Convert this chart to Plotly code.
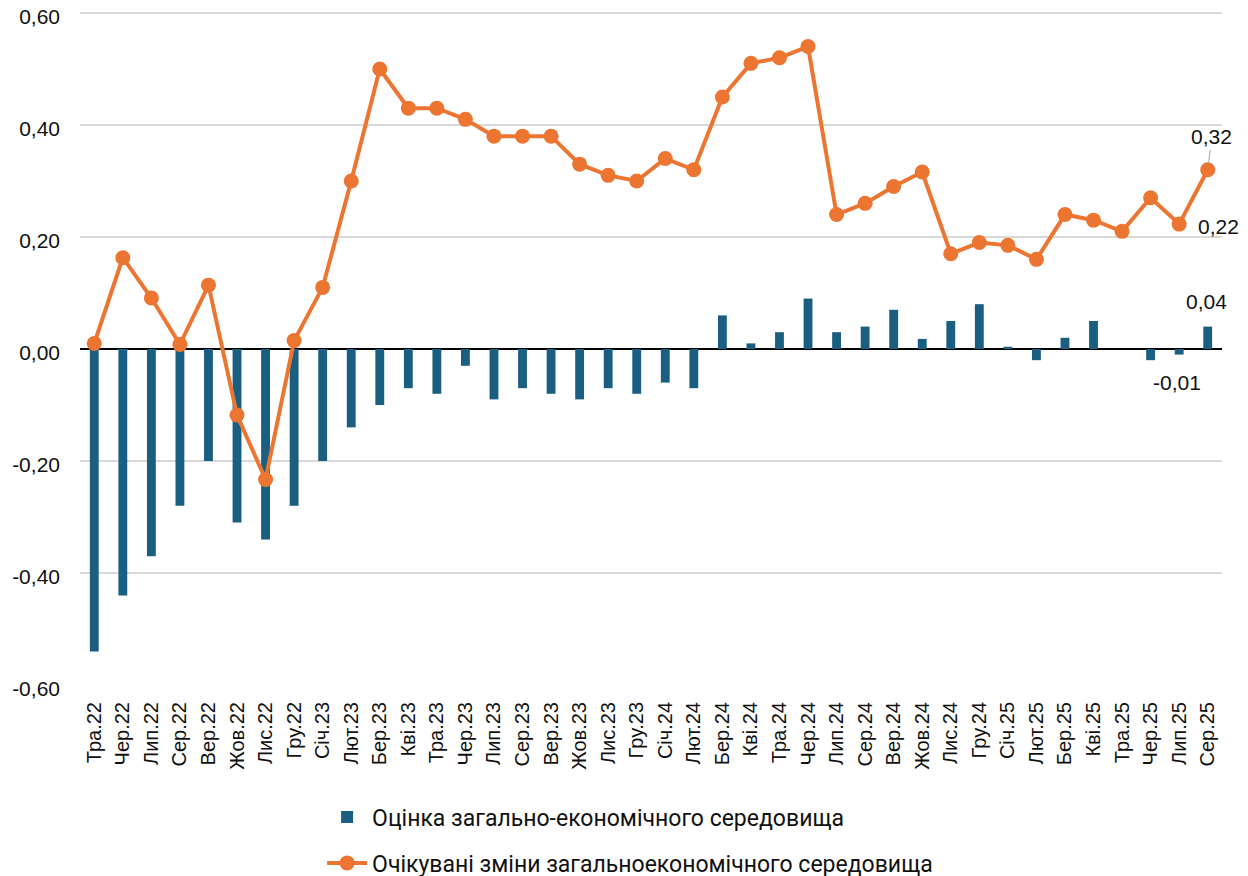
import plotly.graph_objects as go

# Дані
months = [
    "Тра.22", "Чер.22", "Лип.22", "Сер.22", "Вер.22", "Жов.22", "Лис.22", "Гру.22",
    "Січ.23", "Лют.23", "Бер.23", "Кві.23", "Тра.23", "Чер.23", "Лип.23", "Сер.23",
    "Вер.23", "Жов.23", "Лис.23", "Гру.23", "Січ.24", "Лют.24", "Бер.24", "Кві.24",
    "Тра.24", "Чер.24", "Лип.24", "Сер.24", "Вер.24", "Жов.24", "Лис.24", "Гру.24",
    "Січ.25", "Лют.25", "Бер.25", "Кві.25", "Тра.25", "Чер.25", "Лип.25", "Сер.25",
]

assessment = [
    -0.54, -0.44, -0.37, -0.28, -0.20, -0.31, -0.34, -0.28,
    -0.20, -0.14, -0.10, -0.07, -0.08, -0.03, -0.09, -0.07,
    -0.08, -0.09, -0.07, -0.08, -0.06, -0.07, 0.06, 0.01,
    0.03, 0.09, 0.03, 0.04, 0.07, 0.018, 0.05, 0.08,
    0.004, -0.02, 0.02, 0.05, 0.0, -0.02, -0.01, 0.04,
]

expected = [
    0.01, 0.163, 0.091, 0.008, 0.114, -0.118, -0.233, 0.015,
    0.11, 0.30, 0.50, 0.43, 0.43, 0.41, 0.38, 0.38,
    0.38, 0.33, 0.31, 0.30, 0.34, 0.32, 0.45, 0.51,
    0.52, 0.54, 0.24, 0.26, 0.29, 0.316, 0.17, 0.19,
    0.185, 0.16, 0.24, 0.23, 0.21, 0.27, 0.223, 0.32,
]

y_ticks = [-0.6, -0.4, -0.2, 0.0, 0.2, 0.4, 0.6]
y_tick_text = ["-0,60", "-0,40", "-0,20", "0,00", "0,20", "0,40", "0,60"]

bar_name = "Оцінка загально-економічного середовища"
line_name = "Очікувані зміни загальноекономічного середовища"

BLUE = "#1a5f82"
ORANGE = "#ec7532"
FONT = "Liberation Sans"

fig = go.Figure()

fig.add_trace(go.Bar(
    x=months, y=assessment, name=bar_name,
    marker=dict(color=BLUE, line=dict(width=0)),
    width=0.31, legendgroup="a",
))

fig.add_trace(go.Scatter(
    x=months, y=expected, name=line_name, mode="lines+markers",
    line=dict(color=ORANGE, width=4),
    marker=dict(color=ORANGE, size=15),
    legendgroup="b",
))

# підписи останніх значень
fmt = lambda v: f"{v:.2f}".replace(".", ",")
lab_font = dict(family=FONT, size=21, color="#111111")

fig.add_annotation(x=months[-1], y=expected[-1], text=fmt(expected[-1]),
                   showarrow=True, arrowhead=0, arrowwidth=1, arrowcolor="#a6a6a6",
                   ax=4, ay=-33, standoff=7, font=lab_font)
fig.add_annotation(x=months[-2], y=expected[-2], text=fmt(expected[-2]),
                   showarrow=False, xanchor="left", xshift=17, yshift=-2, font=lab_font)
fig.add_annotation(x=months[-1], y=assessment[-1], text=fmt(assessment[-1]),
                   showarrow=False, yshift=25, xshift=-1, font=lab_font)
fig.add_annotation(x=months[-2], y=assessment[-2], text=fmt(assessment[-2]),
                   showarrow=False, yshift=-28, xshift=-2, font=lab_font)

fig.update_layout(
    width=1248, height=876,
    paper_bgcolor="white", plot_bgcolor="white",
    margin=dict(l=72, r=34, t=3, b=199, autoexpand=False),
    font=dict(family=FONT, color="#111111"),
    showlegend=True,
    legend=dict(
        orientation="v", x=0.212, xanchor="left", y=-0.164, yanchor="top",
        font=dict(family="Roboto", size=23, color="#111111"),
        traceorder="grouped", tracegroupgap=13,
        itemwidth=40,
    ),
)

fig.update_xaxes(
    type="category", range=[-0.5, len(months) - 0.5],
    tickangle=-90, showgrid=False, showline=False,
    tickfont=dict(family=FONT, size=20, color="#111111"), ticks="",
    ticklabelstandoff=12, automargin=False,
)
fig.update_yaxes(
    range=[-0.6, 0.6035], tickvals=y_ticks, ticktext=y_tick_text,
    showgrid=True, gridcolor="#d9d9d9", gridwidth=1.5,
    zeroline=True, zerolinecolor="#000000", zerolinewidth=1.5,
    tickfont=dict(family=FONT, size=21, color="#111111"),
    ticklabelstandoff=19, ticklabelshift=4, ticklabeloverflow="allow",
    automargin=False,
)

fig.write_html("out.html")
